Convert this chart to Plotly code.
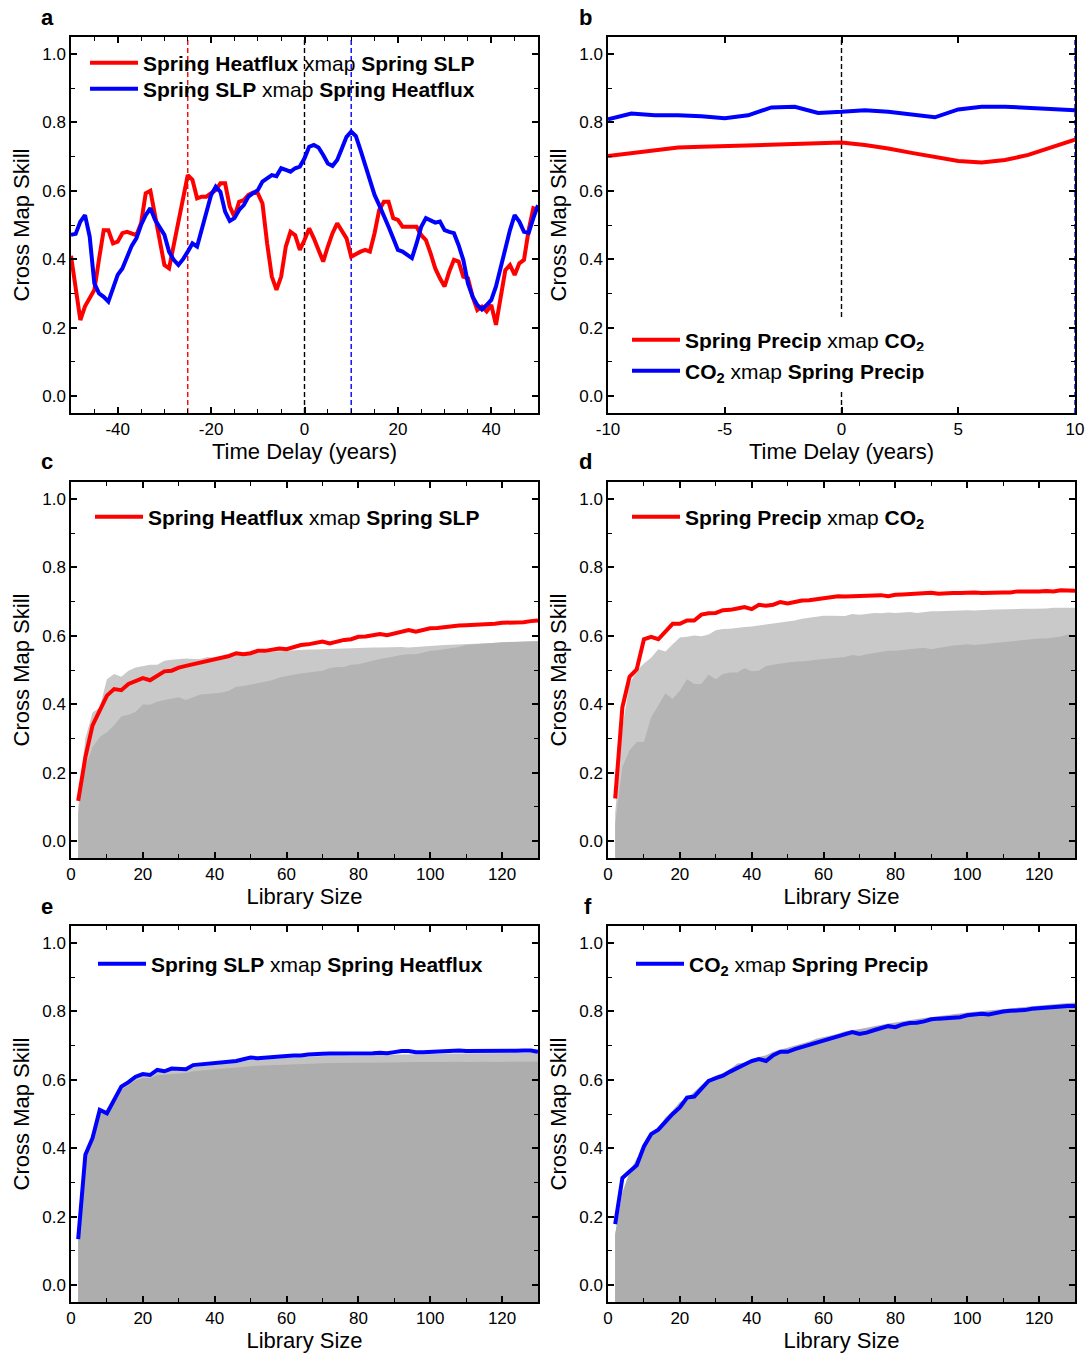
import plotly.graph_objects as go

# ---------------- data ----------------
delay_a = list(range(-50, 51))
red_a = [0.41, 0.31, 0.222, 0.262, 0.285, 0.31, 0.40, 0.485, 0.485, 0.446,
         0.451, 0.476, 0.48, 0.476, 0.47, 0.505, 0.593, 0.60, 0.524, 0.456,
         0.383, 0.373, 0.438, 0.507, 0.577, 0.646, 0.632, 0.578, 0.583, 0.583,
         0.593, 0.602, 0.622, 0.622, 0.554, 0.524, 0.568, 0.573, 0.588, 0.595,
         0.593, 0.563, 0.446, 0.349, 0.31, 0.349, 0.437, 0.48, 0.47, 0.427,
         0.456, 0.49, 0.461, 0.427, 0.393, 0.437, 0.476, 0.505, 0.48, 0.461,
         0.407, 0.415, 0.422, 0.427, 0.422, 0.476, 0.544, 0.568, 0.568, 0.52,
         0.515, 0.495, 0.495, 0.493, 0.495, 0.47, 0.456, 0.417, 0.373, 0.344,
         0.32, 0.364, 0.398, 0.393, 0.349, 0.344, 0.29, 0.251, 0.261, 0.247,
         0.266, 0.208, 0.29, 0.368, 0.383, 0.354, 0.388, 0.398, 0.485, 0.549,
         0.544]
blue_a = [0.471, 0.474, 0.51, 0.529, 0.466, 0.329, 0.30, 0.29, 0.276, 0.315,
          0.354, 0.373, 0.407, 0.439, 0.461, 0.50, 0.529, 0.549, 0.515, 0.49,
          0.471, 0.422, 0.398, 0.383, 0.40, 0.422, 0.446, 0.437, 0.485, 0.539,
          0.588, 0.612, 0.597, 0.539, 0.512, 0.52, 0.544, 0.558, 0.583, 0.593,
          0.602, 0.627, 0.636, 0.646, 0.643, 0.666, 0.661, 0.656, 0.666, 0.671,
          0.695, 0.729, 0.734, 0.727, 0.705, 0.68, 0.673, 0.69, 0.724, 0.758,
          0.773, 0.76, 0.719, 0.675, 0.632, 0.588, 0.558, 0.529, 0.495, 0.461,
          0.427, 0.422, 0.412, 0.403, 0.446, 0.495, 0.52, 0.515, 0.507, 0.51,
          0.485, 0.48, 0.476, 0.441, 0.398, 0.329, 0.29, 0.266, 0.253, 0.266,
          0.281, 0.32, 0.378, 0.427, 0.485, 0.529, 0.51, 0.48, 0.477, 0.52,
          0.558]
vlines_a = [(-25, "red"), (0, "black"), (10, "blue")]
ticks_a = [-40, -20, 0, 20, 40]
ticklabels_a = ["-40", "-20", "0", "20", "40"]

delay_b = list(range(-10, 11))
red_b = [0.702, 0.711, 0.719, 0.727, 0.729, 0.731, 0.733, 0.735, 0.736, 0.739,
         0.741, 0.734, 0.724, 0.711, 0.698, 0.687, 0.683, 0.69, 0.705, 0.727,
         0.75]
blue_b = [0.809, 0.826, 0.821, 0.821, 0.818, 0.812, 0.821, 0.844, 0.846, 0.828,
          0.831, 0.836, 0.831, 0.824, 0.815, 0.838, 0.846, 0.846, 0.843, 0.84,
          0.836]
vlines_b = [(0, "black"), (10, "blue")]
ticks_b = [-10, -5, 0, 5, 10]
ticklabels_b = ["-10", "-5", "0", "5", "10"]

lib = list(range(2, 131, 2))

c_line = [0.117, 0.245, 0.338, 0.381, 0.425, 0.444, 0.441, 0.459, 0.466, 0.476,
          0.470, 0.483, 0.496, 0.498, 0.507, 0.512, 0.517, 0.522, 0.529, 0.532,
          0.536, 0.541, 0.549, 0.546, 0.549, 0.556, 0.556, 0.561, 0.563, 0.561,
          0.568, 0.573, 0.575, 0.578, 0.583, 0.578, 0.583, 0.588, 0.590, 0.597,
          0.598, 0.601, 0.605, 0.602, 0.608, 0.611, 0.617, 0.612, 0.617, 0.622,
          0.623, 0.626, 0.629, 0.630, 0.631, 0.632, 0.633, 0.633, 0.635, 0.638,
          0.638, 0.639, 0.640, 0.643, 0.645]
c_light = [0.10, 0.30, 0.376, 0.39, 0.473, 0.488, 0.48, 0.498, 0.507, 0.512,
           0.515, 0.515, 0.527, 0.53, 0.533, 0.534, 0.532, 0.532, 0.538, 0.536,
           0.541, 0.543, 0.545, 0.547, 0.548, 0.550, 0.552, 0.553, 0.555, 0.556,
           0.558, 0.559, 0.560, 0.560, 0.561, 0.562, 0.562, 0.563, 0.563, 0.564,
           0.565, 0.566, 0.566, 0.567, 0.567, 0.567, 0.566, 0.568, 0.570, 0.571,
           0.572, 0.573, 0.574, 0.575, 0.576, 0.577, 0.578, 0.579, 0.580, 0.580,
           0.581, 0.582, 0.583, 0.584, 0.585]
c_dark = [0.08, 0.216, 0.275, 0.304, 0.318, 0.338, 0.364, 0.369, 0.378, 0.399,
          0.398, 0.407, 0.412, 0.415, 0.42, 0.412, 0.42, 0.428, 0.43, 0.432,
          0.434, 0.439, 0.451, 0.453, 0.457, 0.461, 0.464, 0.47, 0.478, 0.483,
          0.486, 0.49, 0.493, 0.496, 0.498, 0.505, 0.509, 0.509, 0.515, 0.517,
          0.522, 0.529, 0.532, 0.536, 0.541, 0.544, 0.546, 0.546, 0.551, 0.556,
          0.558, 0.561, 0.564, 0.567, 0.573, 0.575, 0.577, 0.579, 0.58, 0.581,
          0.582, 0.583, 0.583, 0.584, 0.584]

d_line = [0.124, 0.391, 0.48, 0.502, 0.59, 0.597, 0.59, 0.614, 0.635, 0.635,
          0.645, 0.645, 0.662, 0.666, 0.667, 0.675, 0.676, 0.68, 0.684, 0.678,
          0.691, 0.688, 0.691, 0.699, 0.695, 0.699, 0.703, 0.704, 0.707, 0.709,
          0.712, 0.716, 0.715, 0.716, 0.718, 0.717, 0.719, 0.719, 0.716, 0.72,
          0.721, 0.722, 0.725, 0.724, 0.726, 0.723, 0.725, 0.725, 0.725, 0.726,
          0.727, 0.725, 0.726, 0.728, 0.727, 0.727, 0.73, 0.73, 0.729, 0.73,
          0.731, 0.73, 0.733, 0.732, 0.732]
d_light = [0.08, 0.333, 0.459, 0.498, 0.519, 0.536, 0.561, 0.554, 0.575, 0.595,
           0.597, 0.601, 0.599, 0.604, 0.616, 0.62, 0.621, 0.624, 0.626, 0.627,
           0.63, 0.633, 0.636, 0.639, 0.641, 0.645, 0.65, 0.653, 0.657, 0.659,
           0.659, 0.659, 0.658, 0.664, 0.662, 0.664, 0.667, 0.666, 0.668, 0.667,
           0.669, 0.670, 0.667, 0.670, 0.672, 0.672, 0.673, 0.674, 0.675, 0.675,
           0.674, 0.676, 0.676, 0.677, 0.678, 0.677, 0.678, 0.679, 0.679, 0.679,
           0.680, 0.682, 0.682, 0.683, 0.682]
d_dark = [0.05, 0.216, 0.265, 0.289, 0.289, 0.362, 0.396, 0.432, 0.415, 0.439,
          0.473, 0.459, 0.459, 0.486, 0.473, 0.488, 0.493, 0.493, 0.505, 0.496,
          0.498, 0.512, 0.515, 0.519, 0.522, 0.524, 0.525, 0.527, 0.53, 0.532,
          0.534, 0.536, 0.538, 0.544, 0.541, 0.546, 0.549, 0.554, 0.556, 0.556,
          0.558, 0.561, 0.564, 0.565, 0.561, 0.565, 0.57, 0.572, 0.573, 0.575,
          0.573, 0.575, 0.578, 0.58, 0.582, 0.585, 0.587, 0.589, 0.59, 0.592,
          0.592, 0.595, 0.598, 0.604, 0.602]

e_line = [0.134, 0.381, 0.43, 0.512, 0.502, 0.541, 0.58, 0.593, 0.609, 0.617,
          0.614, 0.629, 0.625, 0.633, 0.633, 0.631, 0.643, 0.645, 0.649, 0.65,
          0.653, 0.655, 0.655, 0.66, 0.665, 0.663, 0.665, 0.666, 0.67, 0.67,
          0.671, 0.671, 0.674, 0.674, 0.676, 0.677, 0.677, 0.678, 0.676, 0.677,
          0.678, 0.678, 0.679, 0.678, 0.681, 0.684, 0.684, 0.681, 0.681, 0.682,
          0.682, 0.682, 0.684, 0.686, 0.684, 0.684, 0.683, 0.684, 0.684, 0.684,
          0.684, 0.685, 0.686, 0.686, 0.682]
e_light = [0.13, 0.37, 0.425, 0.505, 0.50, 0.535, 0.575, 0.59, 0.605, 0.612,
           0.61, 0.622, 0.622, 0.628, 0.628, 0.628, 0.637, 0.64, 0.643, 0.645,
           0.647, 0.65, 0.65, 0.655, 0.658, 0.658, 0.66, 0.661, 0.664, 0.665,
           0.666, 0.666, 0.668, 0.669, 0.67, 0.671, 0.672, 0.672, 0.671, 0.672,
           0.672, 0.673, 0.673, 0.673, 0.674, 0.675, 0.675, 0.675, 0.675, 0.676,
           0.676, 0.676, 0.677, 0.677, 0.677, 0.677, 0.677, 0.678, 0.678, 0.678,
           0.678, 0.679, 0.679, 0.679, 0.679]
e_dark = [0.13, 0.37, 0.425, 0.50, 0.50, 0.53, 0.57, 0.585, 0.598, 0.605,
          0.605, 0.613, 0.615, 0.618, 0.62, 0.62, 0.625, 0.627, 0.63, 0.632,
          0.634, 0.635, 0.636, 0.638, 0.64, 0.641, 0.642, 0.643, 0.644, 0.645,
          0.646, 0.646, 0.647, 0.648, 0.648, 0.649, 0.649, 0.65, 0.649, 0.65,
          0.65, 0.651, 0.65, 0.651, 0.651, 0.652, 0.651, 0.652, 0.652, 0.653,
          0.652, 0.652, 0.653, 0.653, 0.652, 0.653, 0.653, 0.653, 0.652, 0.653,
          0.653, 0.653, 0.653, 0.653, 0.653]

f_line = [0.178, 0.313, 0.332, 0.35, 0.405, 0.441, 0.454, 0.478, 0.5, 0.519,
          0.548, 0.551, 0.575, 0.597, 0.605, 0.612, 0.624, 0.636, 0.645, 0.655,
          0.661, 0.655, 0.672, 0.682, 0.682, 0.69, 0.696, 0.703, 0.71, 0.716,
          0.719, 0.727, 0.732, 0.74, 0.734, 0.738, 0.745, 0.752, 0.757, 0.754,
          0.762, 0.766, 0.767, 0.771, 0.777, 0.779, 0.78, 0.781, 0.783, 0.789,
          0.791, 0.793, 0.791, 0.796, 0.8, 0.802, 0.803, 0.804, 0.808, 0.81,
          0.811, 0.813, 0.815, 0.816, 0.816]
f_light = [0.15, 0.27, 0.33, 0.37, 0.40, 0.44, 0.46, 0.49, 0.51, 0.535,
           0.545, 0.565, 0.585, 0.60, 0.612, 0.62, 0.632, 0.648, 0.65, 0.662,
           0.668, 0.672, 0.682, 0.688, 0.695, 0.70, 0.705, 0.712, 0.72, 0.726,
           0.73, 0.735, 0.742, 0.745, 0.748, 0.752, 0.757, 0.762, 0.765, 0.768,
           0.772, 0.775, 0.778, 0.781, 0.784, 0.787, 0.789, 0.791, 0.794, 0.797,
           0.799, 0.801, 0.803, 0.805, 0.808, 0.81, 0.812, 0.814, 0.816, 0.818,
           0.82, 0.822, 0.823, 0.825, 0.826]
f_dark = [0.145, 0.265, 0.325, 0.365, 0.395, 0.435, 0.455, 0.485, 0.505, 0.53,
          0.54, 0.56, 0.58, 0.595, 0.607, 0.615, 0.627, 0.642, 0.645, 0.657,
          0.662, 0.667, 0.677, 0.683, 0.69, 0.695, 0.7, 0.707, 0.715, 0.721,
          0.725, 0.73, 0.737, 0.74, 0.743, 0.747, 0.752, 0.757, 0.76, 0.763,
          0.767, 0.77, 0.773, 0.776, 0.779, 0.782, 0.784, 0.786, 0.789, 0.792,
          0.794, 0.796, 0.798, 0.8, 0.803, 0.805, 0.807, 0.809, 0.811, 0.813,
          0.815, 0.817, 0.818, 0.82, 0.821]

lbl_hs = "<b>Spring Heatflux</b> xmap <b>Spring SLP</b>"
lbl_sh = "<b>Spring SLP</b> xmap <b>Spring Heatflux</b>"
lbl_pc = "<b>Spring Precip</b> xmap <b>CO<sub>2</sub></b>"
lbl_cp = "<b>CO<sub>2</sub></b> xmap <b>Spring Precip</b>"

RED = "#ff0000"
BLUE = "#0000ff"
FONT = "Liberation Sans, Arial, sans-serif"
W, H = 1090, 1359

# panel pixel boxes (left, right, top, bottom)
boxes = {
    1: (71, 538, 37, 413), 2: (608, 1075, 37, 413),
    3: (71, 538, 482, 858), 4: (608, 1075, 482, 858),
    5: (71, 538, 926, 1302), 6: (608, 1075, 926, 1302),
}

# one legend per legend entry: (legend id, left px, centre y px, background)
legend_pos = {
    "legend": (85, 63, "rgba(0,0,0,0)"),
    "legend7": (85, 89, "rgba(0,0,0,0)"),
    "legend2": (627, 340, "white"),
    "legend8": (627, 371, "white"),
    "legend3": (90, 517, "rgba(0,0,0,0)"),
    "legend4": (627, 517, "rgba(0,0,0,0)"),
    "legend5": (93, 964, "rgba(0,0,0,0)"),
    "legend6": (631, 964, "rgba(0,0,0,0)"),
}

fig = go.Figure()

def ax(n):
    return ("x" if n == 1 else f"x{n}"), ("y" if n == 1 else f"y{n}")

# panel a
xa, ya = ax(1)
fig.add_trace(go.Scatter(x=delay_a, y=red_a, mode="lines", line=dict(color=RED, width=4),
                         name=lbl_hs, xaxis=xa, yaxis=ya, legend="legend"))
fig.add_trace(go.Scatter(x=delay_a, y=blue_a, mode="lines", line=dict(color=BLUE, width=4),
                         name=lbl_sh, xaxis=xa, yaxis=ya, legend="legend7"))
# panel b
xb, yb = ax(2)
fig.add_trace(go.Scatter(x=delay_b, y=red_b, mode="lines", line=dict(color=RED, width=4),
                         name=lbl_pc, xaxis=xb, yaxis=yb, legend="legend2"))
fig.add_trace(go.Scatter(x=delay_b, y=blue_b, mode="lines", line=dict(color=BLUE, width=4),
                         name=lbl_cp, xaxis=xb, yaxis=yb, legend="legend8"))

panels = [
    (3, c_light, c_dark, c_line, RED, lbl_hs, "#c9c9c9", "#b4b4b4"),
    (4, d_light, d_dark, d_line, RED, lbl_pc, "#c9c9c9", "#b4b4b4"),
    (5, e_light, e_dark, e_line, BLUE, lbl_sh, "#c2c2c2", "#adadad"),
    (6, f_light, f_dark, f_line, BLUE, lbl_cp, "#b2b2b2", "#adadad"),
]
for n, lt, dk, ln, col, lbl, lc, dc in panels:
    xn, yn = ax(n)
    base = [-0.2] * len(lib)
    for top, colr in ((lt, lc), (dk, dc)):
        fig.add_trace(go.Scatter(x=lib, y=base, mode="lines", line=dict(width=0),
                                 showlegend=False, hoverinfo="skip", xaxis=xn, yaxis=yn))
        fig.add_trace(go.Scatter(x=lib, y=top, mode="lines", line=dict(width=0),
                                 fill="tonexty", fillcolor=colr, showlegend=False,
                                 hoverinfo="skip", xaxis=xn, yaxis=yn))
    fig.add_trace(go.Scatter(x=lib, y=ln, mode="lines", line=dict(color=col, width=4),
                             name=lbl, xaxis=xn, yaxis=yn, legend=f"legend{n}"))

# dashed vertical lines
for xv, c in vlines_a:
    fig.add_shape(type="line", x0=xv, x1=xv, y0=0, y1=1, xref="x", yref="y domain",
                  line=dict(color=c, width=1.4, dash="5px,3px"), layer="below")
for xv, c in vlines_b:
    fig.add_shape(type="line", x0=xv, x1=xv, y0=0, y1=1, xref="x2", yref="y2 domain",
                  line=dict(color=c, width=1.4, dash="5px,3px"), layer="below")

axis_common = dict(showline=True, linecolor="black", linewidth=1.5, mirror="allticks",
                   ticks="inside", ticklen=6, tickwidth=1.5, tickcolor="black",
                   showgrid=False, zeroline=False, automargin=False,
                   tickfont=dict(family=FONT, size=17, color="black"))

layout = dict(width=W, height=H, margin=dict(l=0, r=0, t=0, b=0),
              paper_bgcolor="white", plot_bgcolor="white",
              font=dict(family=FONT, color="black"), showlegend=True)

minor_x = lambda d: dict(dtick=d, ticks="inside", ticklen=4, tickcolor="black", tickwidth=1.3)
xcfg = {
    1: dict(range=[-50, 50], tickmode="array", tickvals=ticks_a, ticktext=ticklabels_a,
            minor=dict(tickmode="linear", tick0=0, **minor_x(5)),
            title="Time Delay (years)"),
    2: dict(range=[-10, 10], tickmode="array", tickvals=ticks_b, ticktext=ticklabels_b,
            title="Time Delay (years)"),
}
for n in (3, 4, 5, 6):
    xcfg[n] = dict(range=[0, 130], dtick=20, tick0=0, minor=minor_x(10),
                   title="Library Size")

for n, (l, r, t, b) in boxes.items():
    xd = [l / W, r / W]
    yd = [1 - b / H, 1 - t / H]
    xkey = "xaxis" if n == 1 else f"xaxis{n}"
    ykey = "yaxis" if n == 1 else f"yaxis{n}"
    xc = dict(axis_common)
    cfg = dict(xcfg[n])
    title = cfg.pop("title")
    xc.update(cfg)
    xc.update(domain=xd, anchor=("y" if n == 1 else f"y{n}"),
              title=dict(text=title, font=dict(family=FONT, size=22), standoff=1))
    layout[xkey] = xc
    yc = dict(axis_common)
    yc.update(domain=yd, anchor=("x" if n == 1 else f"x{n}"), range=[-0.05, 1.05],
              dtick=0.2, tick0=0, tickformat=".1f",
              minor=dict(dtick=0.1, ticks="inside", ticklen=4, tickcolor="black", tickwidth=1.3),
              title=dict(text="Cross Map Skill", font=dict(family=FONT, size=22), standoff=7))
    layout[ykey] = yc

for key, (px, py, bg) in legend_pos.items():
    layout[key] = dict(x=px / W, y=1 - py / H, xanchor="left", yanchor="middle",
                       bgcolor=bg, borderwidth=0, itemwidth=48, traceorder="normal",
                       font=dict(family=FONT, size=21, color="black"),
                       tracegroupgap=0)

fig.update_layout(**layout)

letters = [("a", 47, 17), ("b", 585, 17), ("c", 47, 461), ("d", 585, 461), ("e", 47, 906), ("f", 588, 906)]
for t, px, py in letters:
    fig.add_annotation(text=f"<b>{t}</b>", x=px / W, y=1 - py / H, xref="paper", yref="paper",
                       showarrow=False, xanchor="center", yanchor="middle",
                       font=dict(family=FONT, size=22, color="black"))

fig.write_html("out.html")
